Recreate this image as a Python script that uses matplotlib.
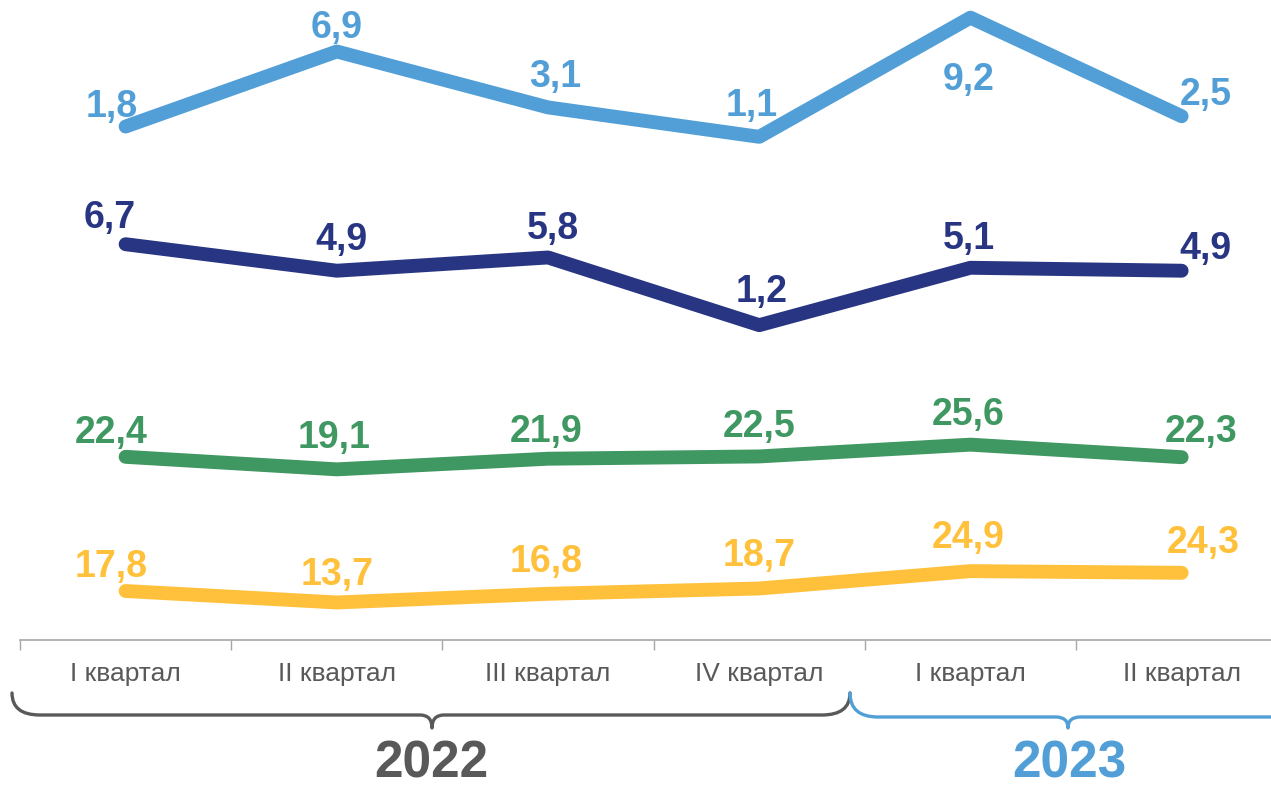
import numpy as np
import matplotlib
matplotlib.use("Agg")
import matplotlib.pyplot as plt
from matplotlib.path import Path
from matplotlib.patches import PathPatch

plt.rcParams['font.family'] = ['Liberation Sans', 'DejaVu Sans']

quarters = ["I квартал", "II квартал", "III квартал", "IV квартал", "I квартал", "II квартал"]
years = ["2022", "2023"]

s_light = [1.8, 6.9, 3.1, 1.1, 9.2, 2.5]
s_navy = [6.7, 4.9, 5.8, 1.2, 5.1, 4.9]
s_green = [22.4, 19.1, 21.9, 22.5, 25.6, 22.3]
s_yellow = [17.8, 13.7, 16.8, 18.7, 24.9, 24.3]

C_LIGHT = "#529FD7"
C_NAVY = "#283583"
C_GREEN = "#3F9762"
C_YELLOW = "#FFC13B"
C_GRAY = "#595959"

W, H = 1271, 790
fig = plt.figure(figsize=(W / 100, H / 100), dpi=100)

# overlay in pixel coords for braces and year captions
ov = fig.add_axes([0, 0, 1, 1], zorder=0)
ov.set_xlim(0, W)
ov.set_ylim(H, 0)
ov.axis("off")

ax_box = [20 / W, (H - 640) / H, (W - 20) / W, 640 / H]
x = np.arange(len(quarters))

# each series sits in its own band: (values, color, ylim, label offsets in px)
series = [
    (s_light, C_LIGHT, (-33.1, 10.4),
     [(-14, 25), (0, 28), (7, 35), (-8, 36), (-2, -57), (24, 26)]),
    (s_navy, C_NAVY, (-20.2, 23.3),
     [(-16, 31), (5, 36), (5, 33), (2, 38), (-2, 34), (24, 27)]),
    (s_green, C_GREEN, (-25.8, 142.6),
     [(-14, 29), (-3, 36), (-2, 32), (0, 34), (-2, 35), (19, 30)]),
    (s_yellow, C_YELLOW, (0.3, 228.9),
     [(-14, 29), (0, 32), (-2, 37), (0, 37), (-2, 38), (22, 35)]),
]

for i, (vals, col, ylim, offs) in enumerate(series):
    ax = fig.add_axes(ax_box, zorder=2 + i)
    ax.patch.set_visible(False)
    ax.plot(x, vals, color=col, lw=10, solid_capstyle="round",
            solid_joinstyle="round")
    for xi, v, (dx, dy) in zip(x, vals, offs):
        ax.annotate(f"{v:.1f}".replace(".", ","), (xi, v),
                    xytext=(dx, dy - 5), textcoords="offset pixels",
                    ha="center", va="center", fontsize=27,
                    fontweight="bold", color=col)
    ax.set_xlim(-0.5, 5.423)
    ax.set_ylim(*ylim)
    ax.set_yticks([])
    for sp in ["left", "right", "top"]:
        ax.spines[sp].set_visible(False)
    if i == 0:
        ax.spines["bottom"].set_color("#A6A6A6")
        ax.spines["bottom"].set_linewidth(1.2)
        ax.set_xticks(np.arange(-0.5, 5, 1.0))
        ax.set_xticklabels([])
        ax.tick_params(axis="x", which="major", length=7, width=1.0,
                       color="#A6A6A6")
        ax.set_xticks(x, minor=True)
        ax.set_xticklabels(quarters, minor=True, fontsize=19, color=C_GRAY)
        ax.tick_params(axis="x", which="minor", length=0, pad=16)
    else:
        ax.spines["bottom"].set_visible(False)
        ax.set_xticks([])


def brace(x0, x1, xc, yt, yb, ytip, col, r=28, r2=12):
    verts = [(x0, yt), (x0, yb), (x0 + r, yb),
             (xc - r2, yb), (xc, yb), (xc, ytip),
             (xc, yb), (xc + r2, yb),
             (x1 - r, yb), (x1, yb), (x1, yt)]
    codes = [Path.MOVETO, Path.CURVE3, Path.CURVE3,
             Path.LINETO, Path.CURVE3, Path.CURVE3,
             Path.CURVE3, Path.CURVE3,
             Path.LINETO, Path.CURVE3, Path.CURVE3]
    ov.add_patch(PathPatch(Path(verts, codes), fill=False, ec=col, lw=2.4,
                           capstyle="round", joinstyle="round"))


brace(12, 850, 432, 693, 715, 728, C_GRAY)
brace(850, 1300, 1068, 693, 717, 728, C_LIGHT)

ov.text(431, 778, years[0], ha="center", va="baseline", fontsize=37,
        fontweight="bold", color=C_GRAY)
ov.text(1069, 778, years[1], ha="center", va="baseline", fontsize=37,
        fontweight="bold", color=C_LIGHT)

fig.savefig("out.png", dpi=100)
